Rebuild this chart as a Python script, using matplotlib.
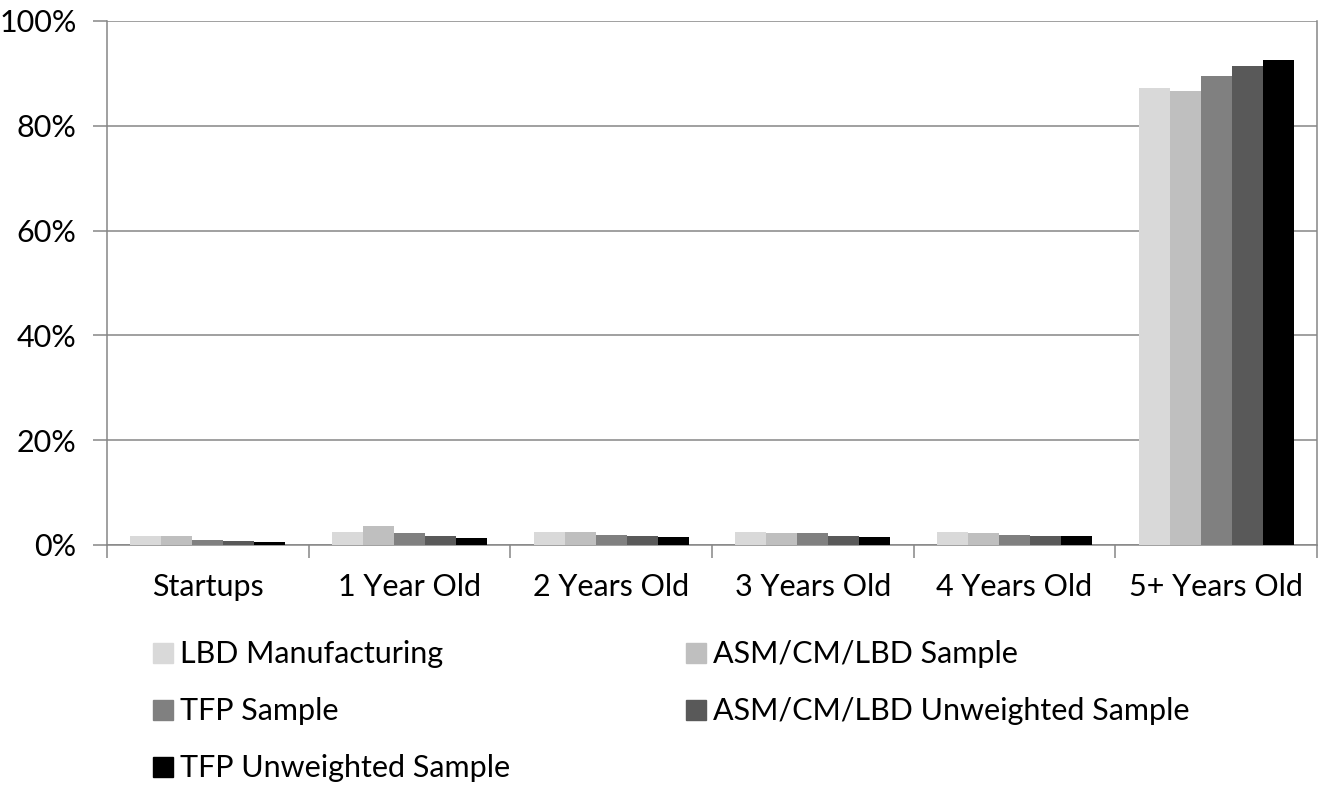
import matplotlib
matplotlib.use("Agg")
import matplotlib.pyplot as plt
from matplotlib.lines import Line2D
import numpy as np

categories = ["Startups", "1 Year Old", "2 Years Old", "3 Years Old", "4 Years Old", "5+ Years Old"]
series_names = ["LBD Manufacturing", "ASM/CM/LBD Sample", "TFP Sample",
                "ASM/CM/LBD Unweighted Sample", "TFP Unweighted Sample"]
lbd_manufacturing = [1.7, 2.4, 2.4, 2.4, 2.4, 87.3]
asm_cm_lbd = [1.7, 3.7, 2.4, 2.2, 2.2, 86.6]
tfp_sample = [1.0, 2.2, 2.0, 2.2, 2.0, 89.5]
asm_cm_lbd_unweighted = [0.7, 1.7, 1.7, 1.7, 1.7, 91.5]
tfp_unweighted = [0.5, 1.3, 1.5, 1.5, 1.7, 92.5]
series_values = [lbd_manufacturing, asm_cm_lbd, tfp_sample, asm_cm_lbd_unweighted, tfp_unweighted]
colors = ["#d9d9d9", "#bfbfbf", "#808080", "#595959", "#000000"]
y_ticks = [0, 20, 40, 60, 80, 100]

plt.rcParams["font.family"] = ["Lato", "DejaVu Sans"]
FS = 22

fig = plt.figure(figsize=(13.25, 7.86), dpi=100)
ax = fig.add_axes([107 / 1325, 1 - 545 / 786, (1317 - 107) / 1325, (545 - 21) / 786])

x = np.arange(len(categories))
width = 0.1537
for i, (vals, col, name) in enumerate(zip(series_values, colors, series_names)):
    ax.bar(x + (i - 2) * width, vals, width=width, color=col, label=name, zorder=3)

ax.set_xlim(-0.5, len(categories) - 0.5)
ax.set_ylim(0, 100)
ax.set_yticks(y_ticks)
ax.set_yticklabels([f"{v}%" for v in y_ticks], fontsize=FS)
ax.yaxis.grid(True, color="#868686", linewidth=1.1, zorder=0)

# category separators as minor ticks, labels at centers
ax.set_xticks(x)
ax.set_xticklabels(categories, fontsize=FS)
ax.tick_params(axis="x", which="major", length=0, pad=20)
ax.set_xticks(np.arange(len(categories) + 1) - 0.5, minor=True)
ax.tick_params(axis="x", which="minor", length=9, color="#868686", width=1.1)
ax.tick_params(axis="y", length=10, color="#868686", width=1.1, pad=12)

for s in ["left", "bottom", "right"]:
    ax.spines[s].set_color("#868686")
    ax.spines[s].set_linewidth(1.1)
ax.spines["top"].set_visible(False)

# legend, filled row by row in two columns
order = [0, 2, 4, 1, 3]
handles = [Line2D([], [], marker="s", linestyle="none", markersize=14,
                  markerfacecolor=colors[i], markeredgecolor=colors[i]) for i in order]
labels = [series_names[i] for i in order]
fig.legend(handles, labels, ncol=2, loc="upper left",
           bbox_to_anchor=(140 / 1325, 1 - 628 / 786), frameon=False,
           fontsize=FS, handlelength=0.7, handletextpad=0.2,
           columnspacing=5.75, labelspacing=0.95, borderaxespad=0)

fig.savefig("out.png", dpi=100, facecolor="white")
